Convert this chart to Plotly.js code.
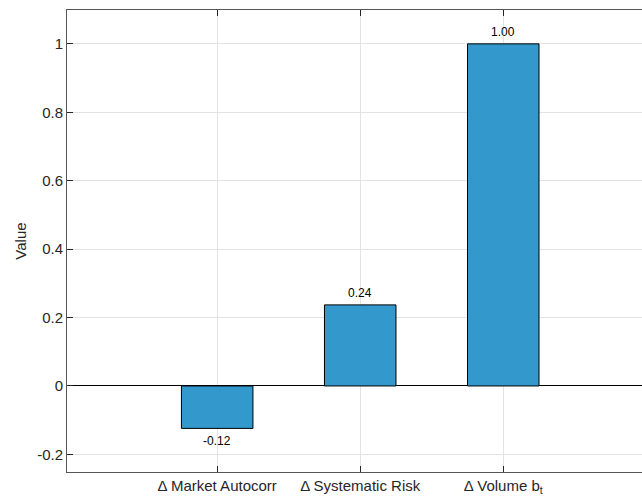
<!DOCTYPE html>
<html>
<head>
<meta charset="utf-8">
<script src="https://cdn.plot.ly/plotly-3.0.1.min.js"></script>
<style>html,body{margin:0;padding:0;background:#fff;overflow:hidden}</style>
</head>
<body>
<div id="chart" style="width:642px;height:500px"></div>
<script>
const categories = ["\u0394 Market Autocorr", "\u0394 Systematic Risk", "\u0394 Volume b<sub>t</sub>"];
const positions = [1, 2, 3];
const values = [-0.124, 0.237, 1.0];
const yTickVals = [-0.2, 0, 0.2, 0.4, 0.6, 0.8, 1];
const yTickText = ["-0.2", "0", "0.2", "0.4", "0.6", "0.8", "1"];

const trace = {
  type: "bar",
  x: positions,
  y: values,
  width: 0.5,
  marker: {color: "#3399cc", line: {color: "#000000", width: 1}},
  hoverinfo: "none"
};

const annotations = values.map((v, i) => ({
  x: positions[i], y: v, xref: "x", yref: "y",
  text: v.toFixed(2), showarrow: false,
  yshift: v >= 0 ? 12 : -13,
  font: {family: "Liberation Sans, Arial, sans-serif", size: 12, color: "#000"}
}));

const layout = {
  width: 642, height: 500,
  margin: {l: 67, r: 0, t: 10, b: 28},
  paper_bgcolor: "#ffffff", plot_bgcolor: "#ffffff",
  font: {family: "Liberation Sans, Arial, sans-serif", size: 15, color: "#262626"},
  showlegend: false,
  xaxis: {
    range: [-0.05, 3.97],
    tickvals: positions, ticktext: categories,
    ticks: "inside", ticklen: 6, tickcolor: "#262626",
    showline: true, linecolor: "#555555", linewidth: 1, mirror: "ticks",
    showgrid: true, gridcolor: "#e3e3e3", gridwidth: 1,
    zeroline: false,
    tickfont: {size: 15, color: "#262626"}
  },
  yaxis: {
    range: [-0.2515, 1.099],
    tickvals: yTickVals, ticktext: yTickText,
    ticks: "inside", ticklen: 6, tickcolor: "#262626",
    showline: true, linecolor: "#555555", linewidth: 1, mirror: false,
    showgrid: true, gridcolor: "#e3e3e3", gridwidth: 1,
    zeroline: true, zerolinecolor: "#000000", zerolinewidth: 1,
    tickfont: {size: 15, color: "#262626"},
    title: {text: "Value", font: {size: 15, color: "#262626"}, standoff: 6}
  },
  annotations: annotations
};

Plotly.newPlot("chart", [trace], layout, {displayModeBar: false, staticPlot: true});
</script>
</body>
</html>
